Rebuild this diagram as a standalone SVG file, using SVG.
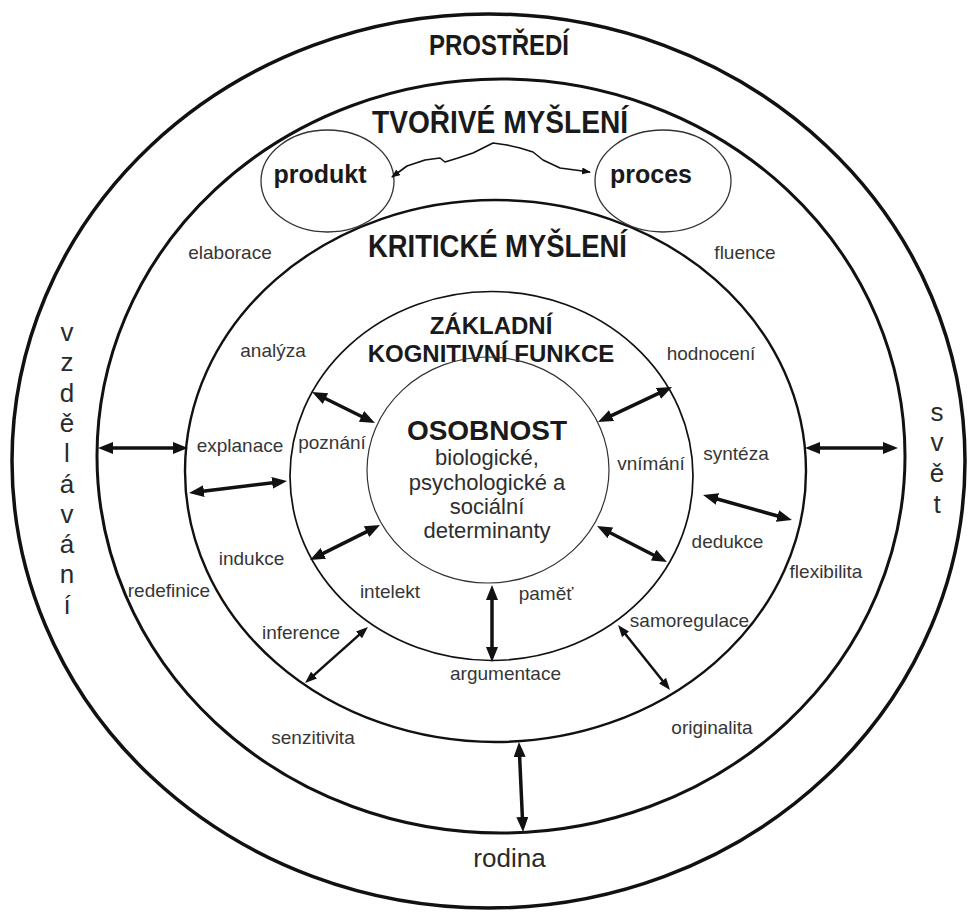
<svg xmlns="http://www.w3.org/2000/svg" width="972" height="915" viewBox="0 0 972 915">
  <style>
    .ring { fill: none; stroke: #111; }
    .title { font-family: "Liberation Sans", Arial, sans-serif; font-weight: bold; fill: #1a1a1a; text-anchor: middle; }
    .big { font-size: 31px; }
    .mid { font-size: 24px; }
    .lbl { font-family: "Liberation Sans", Arial, sans-serif; font-size: 19px; fill: #363636; text-anchor: middle; }
    .vert { font-family: "Liberation Sans", Arial, sans-serif; font-size: 26px; fill: #2a2a2a; text-anchor: middle; }
    .det { font-family: "Liberation Sans", Arial, sans-serif; font-size: 22px; fill: #2e2e2e; text-anchor: middle; }
    .bubble { fill: #fff; stroke: #333; stroke-width: 1.3; }
    .thick { stroke: #111; stroke-width: 3.5; fill: none; marker-start: url(#head); marker-end: url(#head); }
    .medium { stroke: #111; stroke-width: 2.5; fill: none; marker-start: url(#headm); marker-end: url(#headm); }
  </style>
  <defs>
    <marker id="head" markerUnits="userSpaceOnUse" viewBox="0 0 15 12" markerWidth="15" markerHeight="12" refX="3" refY="6" orient="auto-start-reverse">
      <path d="M0,0 L15,6 L0,12 z" fill="#111"/>
    </marker>
    <marker id="headm" markerUnits="userSpaceOnUse" viewBox="0 0 12 9" markerWidth="12" markerHeight="9" refX="2" refY="4.5" orient="auto-start-reverse">
      <path d="M0,0 L12,4.5 L0,9 z" fill="#111"/>
    </marker>
    <marker id="heads" markerUnits="userSpaceOnUse" viewBox="0 0 9 7" markerWidth="9" markerHeight="7" refX="8" refY="3.5" orient="auto-start-reverse">
      <path d="M0,0 L9,3.5 L0,7 z" fill="#111"/>
    </marker>
  </defs>

  <rect width="972" height="915" fill="#fff"/>

  <!-- environment ring -->
  <g id="prostredi">
    <ellipse class="ring" cx="488.5" cy="461" rx="476.5" ry="447" stroke-width="3.5"/>
    <text class="title" x="499" y="55" font-size="30" textLength="140" lengthAdjust="spacingAndGlyphs">PROSTŘEDÍ</text>
    <g id="vzdelavani" class="vert">
      <text x="67" y="341">v</text>
      <text x="67" y="371">z</text>
      <text x="67" y="402">d</text>
      <text x="67" y="432">ě</text>
      <text x="67" y="462">l</text>
      <text x="67" y="493">á</text>
      <text x="67" y="523">v</text>
      <text x="67" y="553">á</text>
      <text x="67" y="583">n</text>
      <text x="67" y="614">í</text>
    </g>
    <g id="svet" class="vert">
      <text x="937" y="421">s</text>
      <text x="937" y="451">v</text>
      <text x="937" y="482">ě</text>
      <text x="937" y="513">t</text>
    </g>
    <text class="vert" x="509.5" y="867" font-size="28">rodina</text>
  </g>

  <!-- creative thinking ring -->
  <g id="tvorive-mysleni">
    <ellipse class="ring" cx="501" cy="456" rx="404" ry="377" stroke-width="3"/>
    <text class="title big" x="500" y="133" textLength="256" lengthAdjust="spacingAndGlyphs">TVOŘIVÉ MYŠLENÍ</text>
    <text class="lbl" x="230" y="259">elaborace</text>
    <text class="lbl" x="745" y="259">fluence</text>
    <text class="lbl" x="169" y="597">redefinice</text>
    <text class="lbl" x="826" y="578">flexibilita</text>
    <text class="lbl" x="313" y="744">senzitivita</text>
    <text class="lbl" x="712" y="734">originalita</text>
  </g>

  <!-- critical thinking ring -->
  <g id="kriticke-mysleni">
    <ellipse class="ring" cx="495.5" cy="471" rx="310.5" ry="271" stroke-width="2.4"/>
    <text class="title big" x="497.5" y="257" textLength="259" lengthAdjust="spacingAndGlyphs">KRITICKÉ MYŠLENÍ</text>
    <text class="lbl" x="273" y="357">analýza</text>
    <text class="lbl" x="711" y="360">hodnocení</text>
    <text class="lbl" x="240" y="452">explanace</text>
    <text class="lbl" x="736" y="460">syntéza</text>
    <text class="lbl" x="251.5" y="565">indukce</text>
    <text class="lbl" x="727.5" y="548">dedukce</text>
    <text class="lbl" x="301" y="639">inference</text>
    <text class="lbl" x="689.5" y="627">samoregulace</text>
    <text class="lbl" x="505.5" y="680">argumentace</text>
  </g>

  <!-- product / process bubbles sit over the ring lines -->
  <g id="produkt">
    <ellipse class="bubble" cx="327.5" cy="181" rx="66.5" ry="51"/>
    <text class="title" x="320" y="183" font-size="25">produkt</text>
  </g>
  <g id="proces">
    <ellipse class="bubble" cx="663" cy="181" rx="68" ry="51"/>
    <text class="title" x="651" y="183" font-size="25">proces</text>
  </g>

  <!-- basic cognitive functions ring -->
  <g id="zakladni-kognitivni-funkce">
    <ellipse class="ring" cx="491.5" cy="476" rx="201.5" ry="184.5" stroke-width="1.7"/>
    <text class="title mid" x="491" y="334">ZÁKLADNÍ</text>
    <text class="title mid" x="491" y="362">KOGNITIVNÍ FUNKCE</text>
    <text class="lbl" x="332" y="449">poznání</text>
    <text class="lbl" x="651" y="470">vnímání</text>
    <text class="lbl" x="390" y="598">intelekt</text>
    <text class="lbl" x="546" y="600">paměť</text>
  </g>

  <!-- personality core -->
  <g id="osobnost">
    <ellipse cx="488" cy="470" rx="121" ry="113" fill="none" stroke="#333" stroke-width="1.2"/>
    <text class="title" x="487" y="440" font-size="28">OSOBNOST</text>
    <text class="det" x="487" y="465">biologické,</text>
    <text class="det" x="487" y="490">psychologické a</text>
    <text class="det" x="487" y="514">sociální</text>
    <text class="det" x="487" y="538">determinanty</text>
  </g>

  <!-- two-way links between the rings -->
  <g id="connectors">
    <line class="thick" x1="110" y1="448" x2="176" y2="448"/>
    <line class="thick" x1="817" y1="448" x2="886" y2="448"/>
    <line class="thick" x1="200.9" y1="491.5" x2="275.1" y2="482.5"/>
    <line class="thick" x1="322.8" y1="397.3" x2="364.2" y2="417.7"/>
    <line class="thick" x1="608.8" y1="416.9" x2="661.2" y2="392.1"/>
    <line class="thick" x1="320.7" y1="554.6" x2="369.3" y2="530.4"/>
    <line class="thick" x1="607.7" y1="531.5" x2="656.3" y2="556.5"/>
    <line class="thick" x1="714.6" y1="498.2" x2="780.4" y2="516.8"/>
    <line class="thick" x1="492" y1="597" x2="492" y2="650"/>
    <line class="thick" x1="519.5" y1="754" x2="522.5" y2="820"/>
    <line class="medium" x1="312.5" y1="676.4" x2="360.5" y2="633.6"/>
    <line class="medium" x1="624.3" y1="632.8" x2="663.8" y2="682.2"/>
    <path d="M392,177 L407,166 L425,160 L440,158 L445,162 L458,158 L473,153 L493,143 L507,145 L520,148 L533,152 L543,160 L560,168 L575,170 L590,172" fill="none" stroke="#111" stroke-width="1.6" stroke-linejoin="round" marker-start="url(#heads)" marker-end="url(#heads)"/>
  </g>
</svg>
